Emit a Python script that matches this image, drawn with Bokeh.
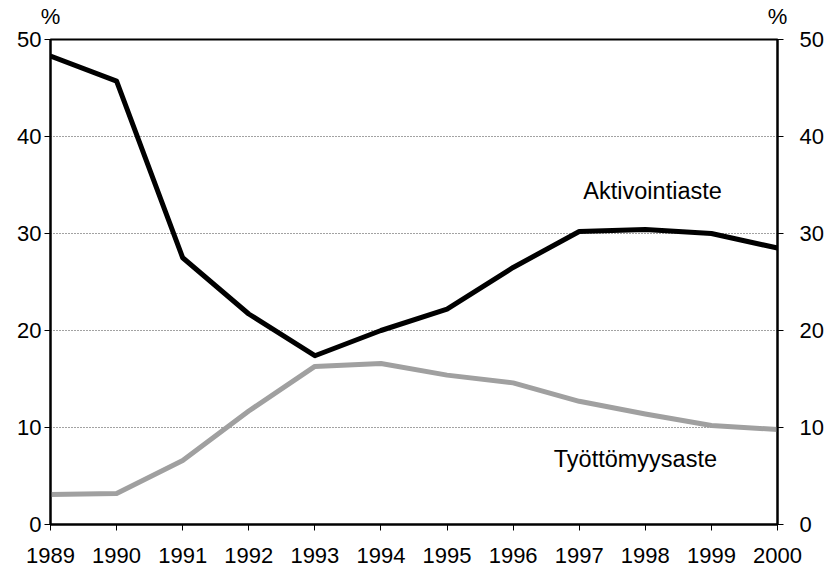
from bokeh.plotting import figure
from bokeh.models import Range1d, LinearAxis, FixedTicker, Label
from bokeh.embed import file_html
from bokeh.resources import INLINE

years = [1989, 1990, 1991, 1992, 1993, 1994, 1995, 1996, 1997, 1998, 1999, 2000]
aktivointiaste = [48.3, 45.7, 27.5, 21.7, 17.4, 20.0, 22.2, 26.5, 30.2, 30.4, 30.0, 28.5]
tyottomyysaste = [3.1, 3.2, 6.6, 11.7, 16.3, 16.6, 15.4, 14.6, 12.7, 11.4, 10.2, 9.8]
y_ticks = [0, 10, 20, 30, 40, 50]
unit_label = "%"

FONT = "Liberation Sans"
TS = "22px"

p = figure(width=826, height=570, output_backend="svg", toolbar_location=None,
           x_range=Range1d(1989, 2000), y_range=Range1d(0, 50),
           min_border_left=50, min_border_right=47, min_border_top=39, min_border_bottom=46)
p.outline_line_color = "black"
p.outline_line_width = 2
p.background_fill_color = "white"
p.border_fill_color = "white"

def style_axis(ax):
    ax.axis_line_color = "black"
    ax.axis_line_width = 2
    ax.major_tick_line_color = "black"
    ax.major_tick_line_width = 1
    ax.major_tick_in = 0
    ax.major_tick_out = 6
    ax.minor_tick_line_color = None
    ax.major_label_text_font = FONT
    ax.major_label_text_font_size = TS
    ax.major_label_text_color = "black"

style_axis(p.xaxis[0])
p.xaxis[0].ticker = FixedTicker(ticks=years)
p.xaxis[0].major_label_standoff = 17
style_axis(p.yaxis[0])
p.yaxis[0].ticker = FixedTicker(ticks=y_ticks)
p.yaxis[0].major_label_standoff = 3

ry = LinearAxis(ticker=FixedTicker(ticks=y_ticks))
style_axis(ry)
ry.major_label_standoff = 16
p.add_layout(ry, "right")

# unit labels above both y axes
top = LinearAxis(ticker=FixedTicker(ticks=[years[0], years[-1]]),
                 major_label_overrides={years[0]: unit_label, years[-1]: unit_label})
style_axis(top)
top.axis_line_color = None
top.major_tick_line_color = None
top.major_tick_out = 0
top.major_label_standoff = 11
p.add_layout(top, "above")

p.xgrid.grid_line_color = None
p.ygrid.ticker = FixedTicker(ticks=[10, 20, 30, 40])
p.ygrid.grid_line_color = "#444444"
p.ygrid.grid_line_dash = "1 2"
p.ygrid.grid_line_width = 1

p.line(years, tyottomyysaste, line_color="#a0a0a0", line_width=5, line_join="round")
p.line(years, aktivointiaste, line_color="black", line_width=5, line_join="round")

p.add_layout(Label(x=1998.11, y=34.4, text="Aktivointiaste", text_align="center",
                   text_baseline="middle", text_font=FONT, text_font_size="23.5px",
                   text_color="black"))
p.add_layout(Label(x=1997.85, y=6.8, text="Työttömyysaste", text_align="center",
                   text_baseline="middle", text_font=FONT, text_font_size="23.5px",
                   text_color="black"))

open("out.html", "w").write(file_html(p, INLINE))
